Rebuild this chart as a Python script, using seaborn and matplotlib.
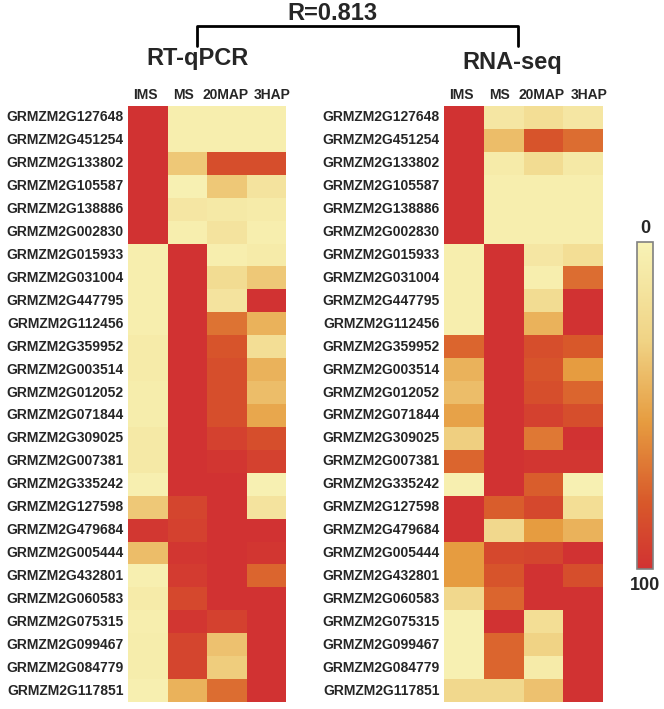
import numpy as np
import pandas as pd
import matplotlib
matplotlib.use("Agg")
import matplotlib.pyplot as plt
import matplotlib.transforms as mtransforms
import seaborn as sns
from matplotlib.colors import LinearSegmentedColormap

sns.set_style("white")
plt.rcParams['font.family'] = ['Liberation Sans', 'DejaVu Sans']
plt.rcParams['font.weight'] = 'bold'

# gene ids (rows) and stages (columns)
genes = ["GRMZM2G127648", "GRMZM2G451254", "GRMZM2G133802", "GRMZM2G105587",
         "GRMZM2G138886", "GRMZM2G002830", "GRMZM2G015933", "GRMZM2G031004",
         "GRMZM2G447795", "GRMZM2G112456", "GRMZM2G359952", "GRMZM2G003514",
         "GRMZM2G012052", "GRMZM2G071844", "GRMZM2G309025", "GRMZM2G007381",
         "GRMZM2G335242", "GRMZM2G127598", "GRMZM2G479684", "GRMZM2G005444",
         "GRMZM2G432801", "GRMZM2G060583", "GRMZM2G075315", "GRMZM2G099467",
         "GRMZM2G084779", "GRMZM2G117851"]
stages = ["IMS", "MS", "20MAP", "3HAP"]

# relative expression (0-100)
qpcr_ims = [100, 100, 100, 100, 100, 100, 5, 5, 5, 5, 8, 8, 6, 6, 10, 10, 4, 35, 97, 40, 4, 8, 5, 6, 6, 4]
qpcr_ms = [5, 5, 35, 3, 12, 5, 100, 100, 100, 100, 100, 100, 100, 100, 100, 100, 100, 90, 92, 98, 95, 88, 98, 90, 90, 45]
qpcr_20map = [5, 5, 85, 35, 10, 15, 5, 22, 15, 70, 82, 85, 85, 85, 92, 98, 100, 100, 100, 100, 100, 100, 92, 38, 33, 72]
qpcr_3hap = [5, 5, 85, 15, 8, 5, 8, 35, 100, 45, 20, 45, 40, 50, 85, 92, 3, 15, 100, 98, 75, 100, 100, 100, 100, 100]

seq_ims = [100, 100, 100, 100, 100, 100, 5, 5, 5, 5, 75, 45, 40, 52, 32, 75, 4, 100, 100, 55, 55, 25, 3, 3, 3, 25]
seq_ms = [12, 40, 8, 5, 5, 5, 100, 100, 100, 100, 100, 100, 100, 100, 100, 100, 100, 78, 25, 88, 82, 75, 100, 75, 75, 25]
seq_20map = [20, 82, 22, 5, 5, 5, 12, 5, 22, 45, 85, 82, 85, 92, 68, 98, 78, 88, 55, 90, 100, 100, 20, 30, 8, 38]
seq_3hap = [12, 72, 10, 5, 5, 5, 20, 72, 100, 100, 80, 55, 75, 85, 100, 98, 3, 20, 45, 100, 85, 100, 100, 100, 100, 100]

qpcr = pd.DataFrame({"IMS": qpcr_ims, "MS": qpcr_ms, "20MAP": qpcr_20map, "3HAP": qpcr_3hap}, index=genes)
rnaseq = pd.DataFrame({"IMS": seq_ims, "MS": seq_ms, "20MAP": seq_20map, "3HAP": seq_3hap}, index=genes)

cmap = LinearSegmentedColormap.from_list(
    "ylrd", [(0, "#F8F3B6"), (0.3, "#F0D385"), (0.55, "#E69C40"),
             (0.8, "#D8582A"), (1, "#D13232")])

W, H = 664, 709
fig = plt.figure(figsize=(W / 100, H / 100), dpi=100)


def box(x0, y0, x1, y1):
    return [x0 / W, 1 - y1 / H, (x1 - x0) / W, (y1 - y0) / H]


ax1 = fig.add_axes(box(128, 106, 286, 702))
ax2 = fig.add_axes(box(444, 106, 603, 702))
cax = fig.add_axes(box(637, 242, 653, 569))

sns.heatmap(qpcr, ax=ax1, cmap=cmap, vmin=0, vmax=100, cbar=False)
sns.heatmap(rnaseq, ax=ax2, cmap=cmap, vmin=0, vmax=100, cbar_ax=cax)

# small horizontal nudges (points) so the crowded column labels sit like the original
nudge = [-1.5, -3, -1, 4.5]
for ax in (ax1, ax2):
    ax.xaxis.tick_top()
    ax.tick_params(length=0, pad=3)
    ax.set_xticklabels(stages, fontsize=10, fontweight='bold', rotation=0)
    ax.set_yticklabels(genes, fontsize=10, fontweight='bold', rotation=0)
    for lab, dx in zip(ax.get_xticklabels(), nudge):
        lab.set_transform(lab.get_transform() +
                          mtransforms.ScaledTranslation(dx / 72, 0, fig.dpi_scale_trans))
    ax.set_xlabel("")
    ax.set_ylabel("")

# colorbar: 0 on top, 100 at bottom
cax.invert_yaxis()
cax.set_yticks([])
cb = ax2.collections[0].colorbar
cb.outline.set_visible(True)
cb.outline.set_edgecolor("#808080")
cb.outline.set_linewidth(1.2)
fig.text(645 / W, 1 - 229 / H, "0", ha='center', va='center', fontsize=13, fontweight='bold')
fig.text(645 / W, 1 - 586 / H, "100", ha='center', va='center', fontsize=13, fontweight='bold')

# titles and the bracket with the correlation
fig.text(197 / W, 1 - 58 / H, "RT-qPCR", ha='center', va='center', fontsize=17, fontweight='bold')
fig.text(512 / W, 1 - 63 / H, "RNA-seq", ha='center', va='center', fontsize=17, fontweight='bold')
fig.text(332 / W, 1 - 13 / H, "R=0.813", ha='center', va='center', fontsize=17, fontweight='bold')
bx = [197 / W, 197 / W, 518 / W, 518 / W]
by = [1 - 46 / H, 1 - 26 / H, 1 - 26 / H, 1 - 46 / H]
fig.add_artist(plt.Line2D(bx, by, color='black', linewidth=2, transform=fig.transFigure))

fig.savefig("out.png", dpi=100)
